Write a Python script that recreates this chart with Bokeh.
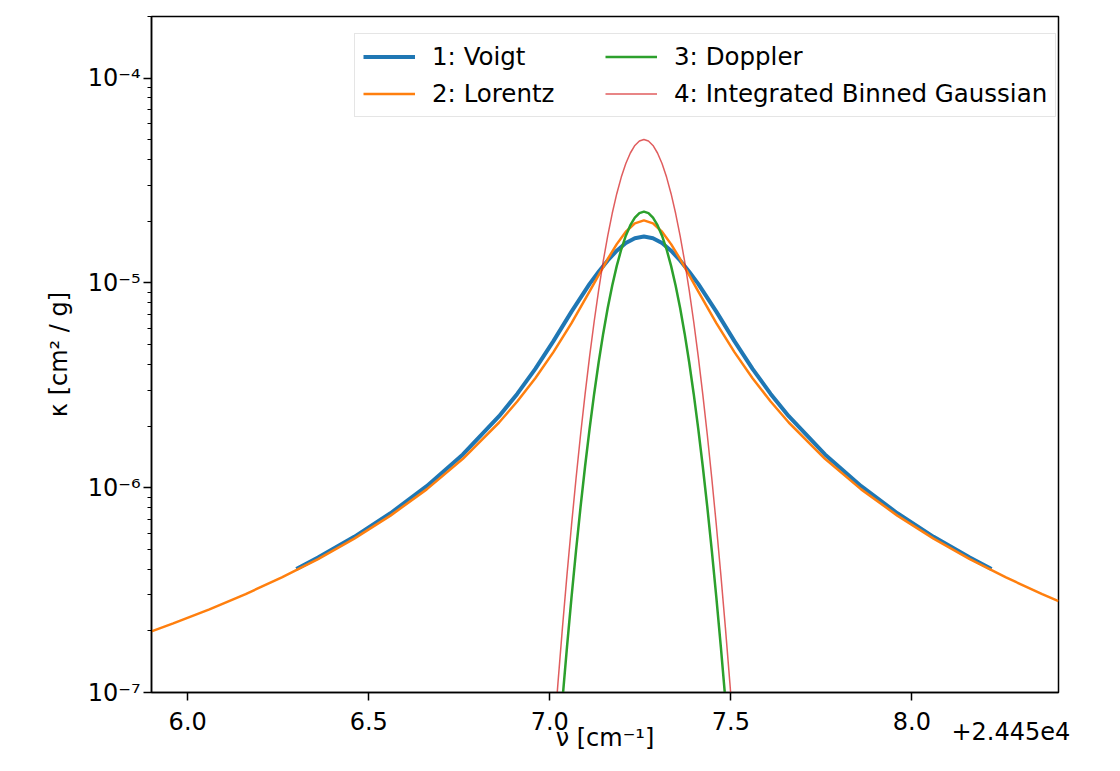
from bokeh.plotting import figure
from bokeh.models import (Range1d, FixedTicker, CustomJSTickFormatter, Legend,
                          LegendItem, LinearAxis)
from bokeh.embed import file_html
from bokeh.resources import INLINE

OFFSET = 24450.0

# wavenumbers (relative to the 2.445e4 offset) and opacities
lorentz_nu = [5.90, 5.96, 6.06, 6.16, 6.26, 6.36, 6.46, 6.56, 6.66, 6.76, 6.86,
              6.91, 6.96, 7.01, 7.06, 7.11, 7.135, 7.16, 7.185, 7.21, 7.235,
              7.26, 7.285, 7.31, 7.335, 7.36, 7.385, 7.41, 7.46, 7.51, 7.56,
              7.61, 7.66, 7.76, 7.86, 7.96, 8.06, 8.16, 8.26, 8.36, 8.405]
lorentz_k = [1.988e-7, 2.174e-7, 2.547e-7, 3.024e-7, 3.647e-7, 4.484e-7,
             5.641e-7, 7.306e-7, 9.816e-7, 1.384e-6, 2.082e-6, 2.636e-6,
             3.427e-6, 4.592e-6, 6.361e-6, 9.084e-6, 1.092e-5, 1.3085e-5,
             1.547e-5, 1.778e-5, 1.954e-5, 2.020e-5, 1.954e-5, 1.778e-5,
             1.547e-5, 1.3085e-5, 1.092e-5, 9.084e-6, 6.361e-6, 4.592e-6,
             3.427e-6, 2.636e-6, 2.082e-6, 1.384e-6, 9.816e-7, 7.306e-7,
             5.641e-7, 4.484e-7, 3.647e-7, 3.024e-7, 2.794e-7]

voigt_nu = [6.30, 6.36, 6.46, 6.56, 6.66, 6.76, 6.86, 6.91, 6.96, 7.01, 7.06,
            7.11, 7.135, 7.16, 7.185, 7.21, 7.235, 7.26, 7.285, 7.31, 7.335,
            7.36, 7.385, 7.41, 7.46, 7.51, 7.56, 7.61, 7.66, 7.76, 7.86, 7.96,
            8.06, 8.16, 8.22]
voigt_k = [4.009e-7, 4.558e-7, 5.758e-7, 7.503e-7, 1.017e-6, 1.453e-6,
           2.234e-6, 2.872e-6, 3.804e-6, 5.20e-6, 7.24e-6, 9.90e-6, 1.134e-5,
           1.287e-5, 1.437e-5, 1.566e-5, 1.654e-5, 1.684e-5, 1.654e-5,
           1.566e-5, 1.437e-5, 1.287e-5, 1.134e-5, 9.90e-6, 7.24e-6, 5.20e-6,
           3.804e-6, 2.872e-6, 2.234e-6, 1.453e-6, 1.017e-6, 7.503e-7,
           5.758e-7, 4.558e-7, 4.009e-7]

gauss_nu = [6.9975, 7.01, 7.0225, 7.035, 7.0475, 7.06, 7.0725, 7.085, 7.0975,
            7.11, 7.1225, 7.135, 7.1475, 7.16, 7.1725, 7.185, 7.1975, 7.21,
            7.2225, 7.235, 7.2475, 7.26, 7.2725, 7.285, 7.2975, 7.31, 7.3225,
            7.335, 7.3475, 7.36, 7.3725, 7.385, 7.3975, 7.41, 7.4225, 7.435,
            7.4475, 7.46, 7.4725, 7.485, 7.4975, 7.51, 7.5225]
doppler_k = [1.2685e-8, 2.541e-8, 4.920e-8, 9.209e-8, 1.6663e-7, 2.915e-7,
             4.928e-7, 8.056e-7, 1.2728e-6, 1.944e-6, 2.870e-6, 4.097e-6,
             5.653e-6, 7.540e-6, 9.722e-6, 1.2117e-5, 1.4600e-5, 1.7006e-5,
             1.9146e-5, 2.0839e-5, 2.1925e-5, 2.230e-5, 2.1925e-5, 2.0839e-5,
             1.9146e-5, 1.7006e-5, 1.4600e-5, 1.2117e-5, 9.722e-6, 7.540e-6,
             5.653e-6, 4.097e-6, 2.870e-6, 1.944e-6, 1.2728e-6, 8.056e-7,
             4.928e-7, 2.915e-7, 1.6663e-7, 9.209e-8, 4.920e-8, 2.541e-8,
             1.2685e-8]
binned_k = [2.8555e-8, 5.720e-8, 1.1075e-7, 2.0730e-7, 3.7510e-7, 6.561e-7,
            1.1094e-6, 1.8135e-6, 2.8651e-6, 4.376e-6, 6.462e-6, 9.223e-6,
            1.2726e-5, 1.6974e-5, 2.1885e-5, 2.7276e-5, 3.2867e-5, 3.8283e-5,
            4.3100e-5, 4.6910e-5, 4.9357e-5, 5.020e-5, 4.9357e-5, 4.6910e-5,
            4.3100e-5, 3.8283e-5, 3.2867e-5, 2.7276e-5, 2.1885e-5, 1.6974e-5,
            1.2726e-5, 9.223e-6, 6.462e-6, 4.376e-6, 2.8651e-6, 1.8135e-6,
            1.1094e-6, 6.561e-7, 3.7510e-7, 2.0730e-7, 1.1075e-7, 5.720e-8,
            2.8555e-8]

x_ticks_rel = [6.0, 6.5, 7.0, 7.5, 8.0]
y_ticks = [1e-7, 1e-6, 1e-5, 1e-4]
y_tick_labels = ["10⁻⁷", "10⁻⁶", "10⁻⁵", "10⁻⁴"]
offset_text = "+2.445e4"
offset_text_pos = 8.2735

FONT = "DejaVu Sans"
FS = "24px"
LFS = "24.5px"

p = figure(width=1104, height=755, y_axis_type="log",
           x_range=Range1d(OFFSET + 5.9, OFFSET + 8.405),
           y_range=Range1d(1e-7, 2e-4),
           output_backend="svg", toolbar_location=None,
           min_border_left=151, min_border_right=46,
           min_border_top=16, min_border_bottom=63)

def abs_nu(lst):
    return [OFFSET + v for v in lst]

r1 = p.line(abs_nu(voigt_nu), voigt_k, line_color="#1f77b4", line_width=4)
r2 = p.line(abs_nu(lorentz_nu), lorentz_k, line_color="#ff7f0e", line_width=2.5)
r3 = p.line(abs_nu(gauss_nu), doppler_k, line_color="#2ca02c", line_width=2.5)
r4 = p.line(abs_nu(gauss_nu), binned_k, line_color="#d62728", line_width=1.5,
            line_alpha=0.75)

p.grid.visible = False
p.outline_line_color = "black"
p.outline_line_width = 1.5
p.background_fill_color = "white"
p.border_fill_color = "white"

xa = p.xaxis[0]
xa.ticker = FixedTicker(ticks=[OFFSET + t for t in x_ticks_rel])
xa.formatter = CustomJSTickFormatter(code="return (tick - 24450).toFixed(1);")
ya = p.yaxis[0]
minor = [m * 10.0 ** e for e in range(-7, -3) for m in range(2, 10)]
ya.ticker = FixedTicker(ticks=y_ticks, minor_ticks=minor)
ya.major_label_overrides = {t: l for t, l in zip(y_ticks, y_tick_labels)}

for ax in (xa, ya):
    ax.axis_line_color = "black"
    ax.axis_line_width = 1.5
    ax.major_tick_line_width = 1.5
    ax.minor_tick_line_width = 1.2
    ax.major_tick_out = 8
    ax.major_tick_in = 0
    ax.minor_tick_out = 4
    ax.minor_tick_in = 0
    ax.major_label_text_font = FONT
    ax.major_label_text_font_size = FS
    ax.major_label_text_color = "black"
xa.minor_tick_line_color = None
xa.major_label_standoff = 11
ya.major_label_standoff = 3
ya.axis_label = "κ [cm² / g]"
ya.axis_label_text_font = FONT
ya.axis_label_text_font_size = FS
ya.axis_label_text_font_style = "normal"
ya.axis_label_text_color = "black"
ya.axis_label_standoff = 12

# second (tick-less) bottom axis carrying the offset text and the x label
xa2 = LinearAxis(ticker=FixedTicker(ticks=[OFFSET + offset_text_pos]),
                 formatter=CustomJSTickFormatter(code="return '%s';" % offset_text))
xa2.axis_line_color = None
xa2.major_tick_line_color = None
xa2.minor_tick_line_color = None
xa2.major_tick_out = 0
xa2.major_tick_in = 0
xa2.minor_tick_out = 0
xa2.minor_tick_in = 0
xa2.major_label_standoff = -11
xa2.major_label_text_font = FONT
xa2.major_label_text_font_size = FS
xa2.major_label_text_color = "black"
xa2.axis_label = "ν [cm⁻¹]"
xa2.axis_label_standoff = -19
xa2.axis_label_text_font = FONT
xa2.axis_label_text_font_size = FS
xa2.axis_label_text_font_style = "normal"
xa2.axis_label_text_color = "black"
p.add_layout(xa2, "below")

legend = Legend(items=[LegendItem(label="1: Voigt", renderers=[r1]),
                       LegendItem(label="2: Lorentz", renderers=[r2]),
                       LegendItem(label="3: Doppler", renderers=[r3]),
                       LegendItem(label="4: Integrated Binned Gaussian", renderers=[r4])],
                location=(203, 575), ncols=2, orientation="vertical")
legend.label_text_font = FONT
legend.label_text_font_size = LFS
legend.label_text_color = "black"
legend.label_height = 29
legend.label_width = 165
legend.glyph_height = 29
legend.glyph_width = 52
legend.label_standoff = 17
legend.spacing = 8
legend.padding = 8
legend.margin = 0
legend.border_line_color = "#cccccc"
legend.border_line_width = 1.5
legend.background_fill_alpha = 0.85
p.add_layout(legend)

open("out.html", "w").write(file_html(p, INLINE))
